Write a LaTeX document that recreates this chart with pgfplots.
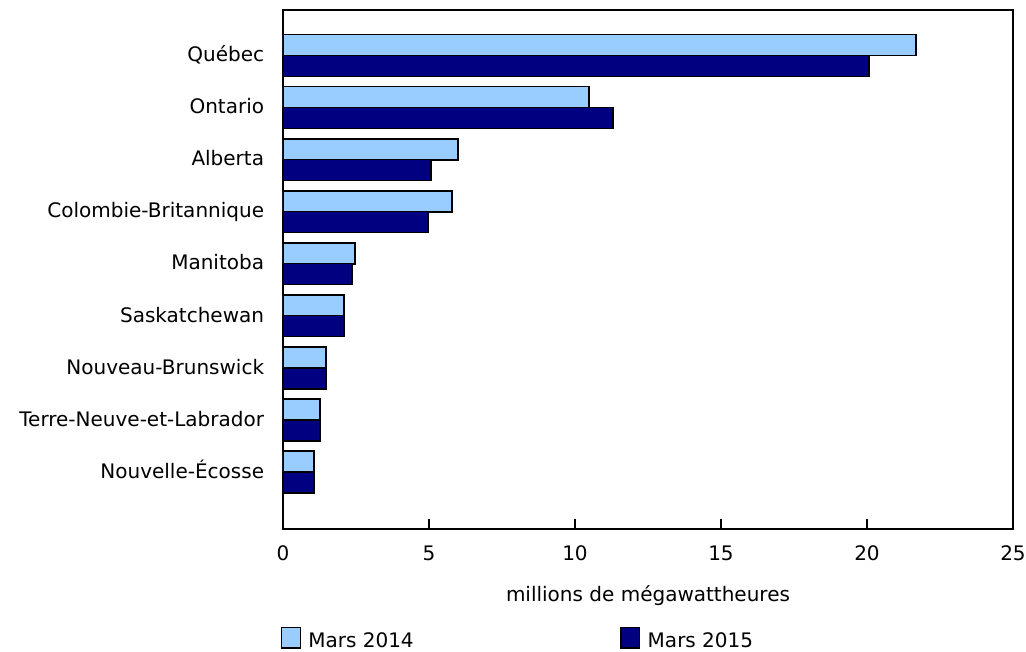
\documentclass[border=0pt]{standalone}
\usepackage{fontspec}
\setmainfont{DejaVu Sans}
\usepackage{pgfplots}
\usepackage{pgfplotstable}
\pgfplotsset{compat=1.18}
\definecolor{lightbar}{RGB}{153,204,255}
\definecolor{darkbar}{RGB}{0,0,128}
\pgfplotstableread{
idx v2014 v2015
0 21.68 20.07
1 10.48 11.30
2 5.99 5.07
3 5.79 4.97
4 2.47 2.36
5 2.09 2.09
6 1.47 1.47
7 1.27 1.27
8 1.06 1.06
}\datatable
\begin{document}
\begin{tikzpicture}[x=0.75pt,y=0.75pt]
\useasboundingbox (-283,-123) rectangle (743,529);
\begin{axis}[
  at={(0,0)}, anchor=south west,
  scale only axis, width=547.5pt, height=389.25pt,
  xbar, bar width=0.4035,
  xmin=0, xmax=25, ymin=-0.878, ymax=9.095, y dir=reverse,
  ytick={0,...,8},
  yticklabels={Québec,Ontario,Alberta,Colombie-Britannique,Manitoba,Saskatchewan,Nouveau-Brunswick,Terre-Neuve-et-Labrador,Nouvelle-Écosse},
  ytick style={draw=none},
  xtick={0,5,10,15,20,25},
  xtick pos=left, tick align=inside,
  major tick length=7.5pt,
  x tick style={black, line width=1pt},
  axis line style={black, line width=1.1pt},
  font=\fontsize{15}{18}\selectfont,
  /pgf/number format/assume math mode=true,
  xticklabel style={anchor=base, inner sep=0pt, yshift=-23.25pt},
  yticklabel style={anchor=base east, inner sep=0pt, xshift=-14pt, yshift=-4.6pt},
  xlabel={millions de mégawattheures},
  xlabel style={at={(axis description cs:0.5,0)}, anchor=base, inner sep=0pt, yshift=-54pt},
  legend style={draw=none, fill=none, inner sep=0pt, at={(axis description cs:0,0)}, anchor=north west, xshift=-1.7pt, yshift=-73pt, legend columns=2,
    /tikz/every even column/.append style={column sep=153pt},
    /tikz/every odd column/.append style={column sep=3.5pt}},
  legend cell align=left,
  legend image code/.code={\draw[#1, line width=1pt] (0pt,-5.5pt) rectangle (14pt,10pt);},
]
\addplot[fill=lightbar, draw=black, line width=1pt, bar shift=-0.2] table[x=v2014, y=idx] {\datatable};
\addplot[fill=darkbar, draw=black, line width=1pt, bar shift=0.2] table[x=v2015, y=idx] {\datatable};
\legend{Mars 2014, Mars 2015}
\end{axis}
\end{tikzpicture}
\end{document}
